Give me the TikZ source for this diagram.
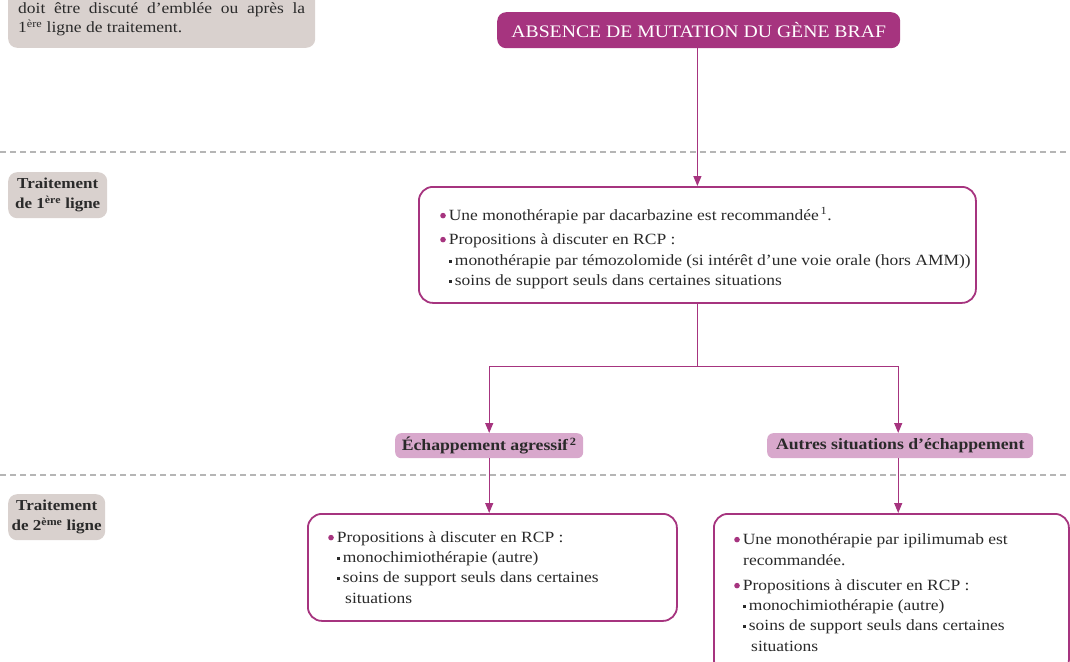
\documentclass[tikz,border=0pt]{standalone}
\usepackage{fontspec}
\setmainfont{Liberation Serif}[FakeStretch=1.12]
\usetikzlibrary{arrows.meta}
\definecolor{mag}{HTML}{A6347F}
\definecolor{pinkfill}{HTML}{D8A8CC}
\definecolor{grayfill}{HTML}{D9D1CE}
\definecolor{dashgray}{HTML}{B5B5B5}
\definecolor{txt}{HTML}{2A2A2A}
\tikzset{
  box/.style={draw=mag, line width=1.8pt, rounded corners=14pt, fill=white, inner sep=0pt},
  titlebox/.style={fill=mag, rounded corners=9pt, inner sep=0pt},
  pinkbox/.style={fill=pinkfill, rounded corners=6pt, inner sep=0pt},
  graybox/.style={fill=grayfill, rounded corners=9pt, inner sep=0pt},
  txtline/.style={anchor=base west, inner sep=0pt, text=txt, font=\fontsize{15.6}{18}\selectfont},
  lbl/.style={inner sep=0pt, text=txt, font=\fontsize{15.8}{18}\selectfont\bfseries},
  side/.style={inner sep=0pt, text=txt, font=\fontsize{15.2}{20}\selectfont\bfseries, align=center},
  conn/.style={draw=mag, line width=1.3pt},
  arr/.style={conn, -{Triangle[length=10pt,width=8pt]}},
  sep/.style={draw=dashgray, line width=1.2pt, dash pattern=on 6pt off 4pt},
}
\newcommand{\bdot}{\textcolor{mag}{\raisebox{0.22ex}{\tikz\fill (0,0) circle (2.8pt);}}\hspace{3pt}}
\newcommand{\bsq}{\textcolor{txt}{\raisebox{0.3ex}{\tikz\fill (0,0) rectangle (3.2pt,3.2pt);}}\hspace{2.5pt}}
\begin{document}
\begin{tikzpicture}[x=1pt,y=-1pt]
\useasboundingbox (0,0) rectangle (1070,661);
% separators
\draw[sep] (0,152) -- (1070,152);
\draw[sep] (0,475) -- (1070,475);
% top-left note
\node[graybox, minimum width=307pt, minimum height=70pt, anchor=south west] (note) at (8,48) {};
\node[txtline] (n1) at (18,14) {\makebox[287pt][s]{doit être discuté d’emblée ou après la}};
\node[txtline] (n2) at (18,33) {1\textsuperscript{ère} ligne de traitement.};
% title
\node[titlebox, minimum width=403pt, minimum height=36pt, anchor=north west] (title) at (497,12) {};
\node[text=white, font=\fontsize{17.6}{20}\selectfont, inner sep=0pt] at (title.center) {ABSENCE DE MUTATION DU GÈNE BRAF};
% side labels
\node[graybox, minimum width=99pt, minimum height=46pt, anchor=north west] (s1) at (8,172) {};
\node[side] at (s1.center) {Traitement\\de 1\textsuperscript{ère} ligne};
\node[graybox, minimum width=97pt, minimum height=46pt, anchor=north west] (s2) at (8,494) {};
\node[side] at (s2.center) {Traitement\\de 2\textsuperscript{ème} ligne};
% box 1
\node[box, minimum width=557pt, minimum height=116pt, anchor=north west] (b1) at (418,186) {};
\node[txtline] at (440,220) {\bdot Une monothérapie par dacarbazine est recommandée\textsuperscript{\,1}.};
\node[txtline] at (440,244) {\bdot Propositions à discuter en RCP :};
\node[txtline] at (449,265) {\bsq monothérapie par témozolomide (si intérêt d’une voie orale (hors AMM))};
\node[txtline] at (449,285) {\bsq soins de support seuls dans certaines situations};
% labels
\node[pinkbox, minimum width=188pt, minimum height=25pt, anchor=north west] (e1) at (395,433) {};
\node[lbl] at (e1.center) {Échappement agressif\textsuperscript{\,2}};
\node[pinkbox, minimum width=266pt, minimum height=25pt, anchor=north west] (e2) at (767,433) {};
\node[lbl] at (e2.center) {Autres situations d’échappement};
% box 2
\node[box, minimum width=369pt, minimum height=107pt, anchor=north west] (b2) at (307,513) {};
\node[txtline] at (328,542) {\bdot Propositions à discuter en RCP :};
\node[txtline] at (337,562) {\bsq monochimiothérapie (autre)};
\node[txtline] at (337,582) {\bsq soins de support seuls dans certaines};
\node[txtline] at (345,603) {situations};
% box 3
\node[box, minimum width=355pt, minimum height=160pt, anchor=north west] (b3) at (713,513) {};
\node[txtline] at (734,544) {\bdot Une monothérapie par ipilimumab est};
\node[txtline] at (743,565) {recommandée.};
\node[txtline] at (734,590) {\bdot Propositions à discuter en RCP :};
\node[txtline] at (743,610) {\bsq monochimiothérapie (autre)};
\node[txtline] at (743,630) {\bsq soins de support seuls dans certaines};
\node[txtline] at (751,651) {situations};
% connectors
\coordinate (split) at ([yshift=-63pt]b1.south);
\draw[arr] (title.south -| b1.north) -- (b1.north);
\draw[conn] (b1.south) -- (split);
\draw[arr] (split) -| (e1.north);
\draw[arr] (split) -| ([xshift=-2pt]e2.north);
\draw[arr] (e1.south) -- (e1.south |- b2.north);
\draw[arr] ([xshift=-2pt]e2.south) -- ([xshift=-2pt]e2.south |- b3.north);
\end{tikzpicture}
\end{document}
